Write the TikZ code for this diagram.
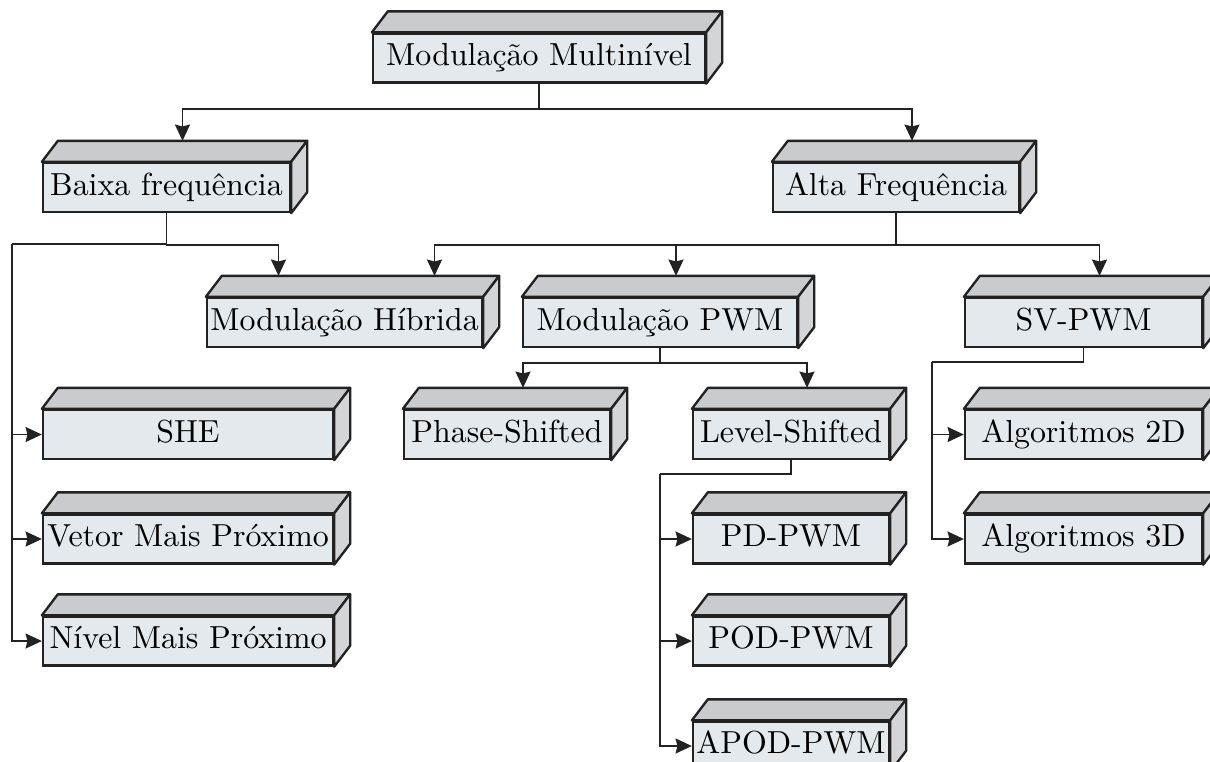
\documentclass[tikz,border=0pt]{standalone}
\usetikzlibrary{arrows.meta,calc}
\definecolor{frontc}{HTML}{E4E9ED}
\definecolor{topc}{HTML}{C9CBCE}
\definecolor{sidec}{HTML}{D3D5D8}
\definecolor{edgec}{HTML}{222222}
\tikzset{
  cubefront/.style={draw=edgec, line width=0.75pt, fill=frontc, inner sep=0pt,
    minimum height=49*0.32pt, text height=7pt, text depth=2pt,
    font=\fontsize{10.2}{12}\selectfont},
  cubetop/.style={draw=edgec, line width=0.75pt, fill=topc, line join=round},
  cubeside/.style={draw=edgec, line width=0.75pt, fill=sidec, line join=round},
  conn/.style={draw=edgec, line width=0.55pt},
  arr/.style={conn, -{Stealth[length=5.2pt,width=4.8pt,inset=0.6pt]}}
}
\newcommand\cubebox[5]{%
  \node[cubefront, minimum width=#4*0.32pt] (#1) at (#2,#3) {#5};
  \filldraw[cubetop] (#1.north west) -- ++(16,-21) -- ([shift={(16,-21)}]#1.north east) -- (#1.north east) -- cycle;
  \filldraw[cubeside] (#1.north east) -- ++(16,-21) -- ([shift={(16,-21)}]#1.south east) -- (#1.south east) -- cycle;
  \coordinate (#1-t) at ([shift={(16,-21)}]#1.north);
}
\begin{document}
\begin{tikzpicture}[x=0.32pt,y=-0.32pt]
\useasboundingbox (0,0) rectangle (1210,761);
\clip (0,0) rectangle (1210,761);
\cubebox{mm}{539}{58}{332}{Modulação Multinível}
\cubebox{bf}{166.5}{187.5}{247}{Baixa frequência}
\cubebox{af}{896}{187.5}{246}{Alta Frequência}
\cubebox{hib}{344.5}{322.5}{275}{Modulação Híbrida}
\cubebox{pwm}{660}{322.5}{274}{Modulação PWM}
\cubebox{sv}{1083.5}{322.5}{237}{SV-PWM}
\cubebox{ps}{507}{434.5}{206}{Phase-Shifted}
\cubebox{ls}{791}{434.5}{196}{Level-Shifted}
\cubebox{she}{188}{434.5}{290}{SHE}
\cubebox{vmp}{188}{539}{290}{Vetor Mais Próximo}
\cubebox{nmp}{188}{641}{290}{Nível Mais Próximo}
\cubebox{atd}{1083.5}{434.5}{237}{Algoritmos 2D}
\cubebox{att}{1083.5}{539}{237}{Algoritmos 3D}
\cubebox{pd}{791}{539}{196}{PD-PWM}
\cubebox{pod}{791}{641}{196}{POD-PWM}
\cubebox{apod}{791}{746}{196}{APOD-PWM}
% helper coordinates
\coordinate (bl) at (12,244);
\coordinate (lsl) at (660,474);
\coordinate (svl) at (932,362);
% top level
\draw[arr] (mm.south) -- ++(0,25) -| (bf-t);
\draw[arr] (mm.south) -- ++(0,25) -| (af-t);
% baixa frequencia
\draw[conn] (bf.south) |- (bl);
\draw[arr] (bf.south) -- ++(0,32) -| ([shift={(-82,0)}]hib-t);
\draw[arr] (bl) |- (she.west);
\draw[arr] (bl) |- (vmp.west);
\draw[arr] (bl) |- (nmp.west);
% alta frequencia
\draw[arr] (af.south) -- ++(0,32) -| ([shift={(74,0)}]hib-t);
\draw[arr] (af.south) -- ++(0,32) -| (pwm-t);
\draw[arr] (af.south) -- ++(0,32) -| (sv-t);
% PWM
\draw[arr] (pwm.south) -- ++(0,15) -| (ps-t);
\draw[arr] (pwm.south) -- ++(0,15) -| (ls-t);
% level shifted
\draw[conn] (ls.south) |- (lsl);
\draw[arr] (lsl) |- (pd.west);
\draw[arr] (lsl) |- (pod.west);
\draw[arr] (lsl) |- (apod.west);
% SV-PWM
\draw[conn] (sv.south) |- (svl);
\draw[arr] (svl) |- (atd.west);
\draw[arr] (svl) |- (att.west);
\end{tikzpicture}
\end{document}
